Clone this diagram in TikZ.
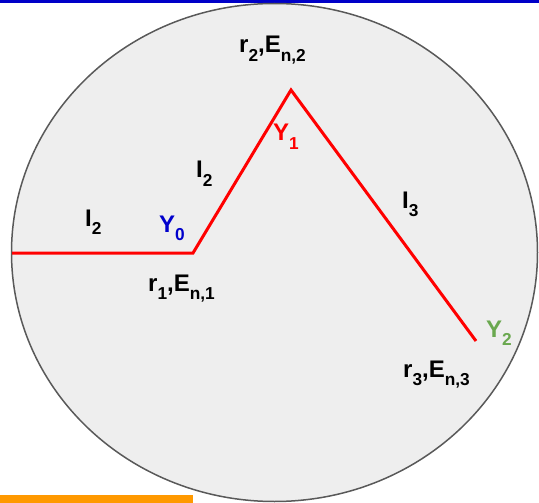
\documentclass[tikz,border=0pt]{standalone}
\usepackage{fontspec}
\setmainfont{Liberation Sans}
\usepackage{xcolor}
\usetikzlibrary{positioning}

\definecolor{rimgray}{HTML}{595959}
\definecolor{diskfill}{HTML}{EEEEEE}
\definecolor{topblue}{HTML}{0000C8}
\definecolor{barorange}{HTML}{FF9900}
\definecolor{yblue}{HTML}{0000CC}
\definecolor{yred}{HTML}{FF0000}
\definecolor{ygreen}{HTML}{6AA84F}

% low, fairly large subscripts
\makeatletter
\newcommand{\lowsub}[1]{\raisebox{-0.34em}{\fontsize{\strip@pt\dimexpr\f@size pt*72/100\relax}{1em}\selectfont #1}}
\makeatother

\begin{document}
\begin{tikzpicture}[
  x=1pt, y=-1pt,
  font=\bfseries,
  reglbl/.style={anchor=base west, inner sep=0pt, font=\fontsize{24}{26}\selectfont\bfseries},
  seglbl/.style={anchor=base west, inner sep=0pt, font=\fontsize{24}{26}\selectfont\bfseries},
  ptlbl/.style={anchor=base west, inner sep=0pt, font=\fontsize{24}{26}\selectfont\bfseries},
  rim/.style={draw=rimgray, line width=1.5pt, fill=diskfill},
  pathline/.style={draw=yred, line width=3pt, line join=miter}
]
\useasboundingbox (0,0) rectangle (539,503);
%--- Frame bars ---------------------------------------------------------------
\fill[topblue] (0,0) rectangle (539,3.5);
\fill[barorange] (0,495) rectangle (193,503);
%--- Disk -----------------------------------------------------------------------
\draw[rim] (274.5,252.5) ellipse [x radius=263, y radius=249];
%--- Path points ---------------------------------------------------------------
\coordinate (p0) at (12,253);
\coordinate (y0) at (193,253);
\coordinate (y1) at (291,90);
\coordinate (y2) at (476,341);
\draw[pathline] (p0) -- (y0) -- (y1) -- (y2);
%--- Region labels -------------------------------------------------------------
\node[reglbl] (reg2) at (239,53) {r\lowsub{2},E\lowsub{n,2}};
\node[reglbl] (reg1) at (148,291) {r\lowsub{1},E\lowsub{n,1}};
\node[reglbl] (reg3) at (403,377) {r\lowsub{3},E\lowsub{n,3}};
%--- Segment labels ------------------------------------------------------------
\node[seglbl] (lenA) at (85,226) {I\lowsub{2}};
\node[seglbl] (lenB) at (196,178) {I\lowsub{2}};
\node[seglbl] (lenC) at (402,208) {I\lowsub{3}};
%--- Point labels --------------------------------------------------------------
\node[ptlbl, text=yblue]  (lblY0) at (159,232) {Y\lowsub{0}};
\node[ptlbl, text=yred]   (lblY1) at (273,141) {Y\lowsub{1}};
\node[ptlbl, text=ygreen] (lblY2) at (486,337) {Y\lowsub{2}};
\end{tikzpicture}
\end{document}
